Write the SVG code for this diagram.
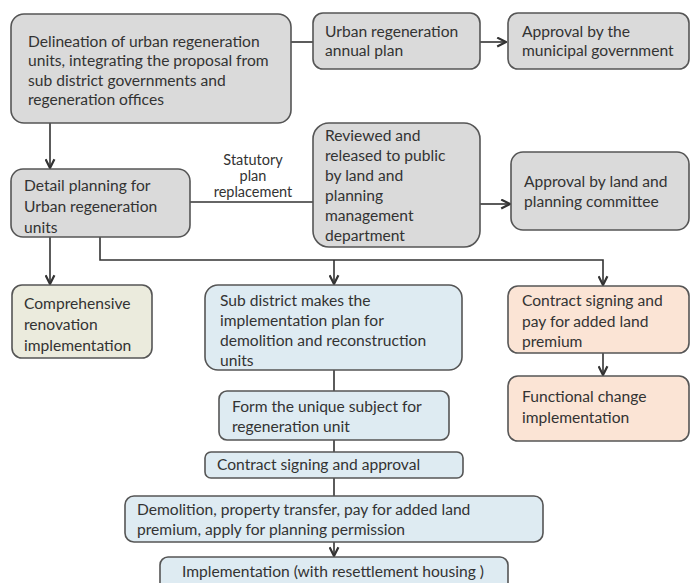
<svg xmlns="http://www.w3.org/2000/svg" width="691" height="583" viewBox="0 0 691 583">
<defs>
<marker id="arr" viewBox="0 0 10 10" refX="9" refY="5" markerWidth="11" markerHeight="11" markerUnits="userSpaceOnUse" orient="auto">
<path d="M1,1 L9,5 L1,9" fill="none" stroke="#333" stroke-width="2"/>
</marker>
<style>
.b{stroke:#555;stroke-width:1.6}
.g{fill:#dadada}
.bl{fill:#deebf2}
.gr{fill:#ebebdd}
.or{fill:#fbe4d5}
text{font-family:Lato,"Open Sans",sans-serif;font-size:15.6px;fill:#333}
.c{stroke:#333;stroke-width:1.6;fill:none}
.lbl{font-size:14.5px;text-anchor:middle}
</style>
</defs>
<rect width="691" height="583" fill="#fff"/>
<g id="connectors">
<line class="c" x1="291" y1="42" x2="313" y2="42"/>
<line class="c" x1="480" y1="42" x2="506" y2="42" marker-end="url(#arr)"/>
<line class="c" x1="50" y1="123" x2="50" y2="168" marker-end="url(#arr)"/>
<line class="c" x1="190" y1="202" x2="313" y2="202"/>
<line class="c" x1="480" y1="204" x2="510" y2="204" marker-end="url(#arr)"/>
<line class="c" x1="50" y1="237" x2="50" y2="284" marker-end="url(#arr)"/>
<polyline class="c" points="100,237 100,260 603,260 603,285" marker-end="url(#arr)"/>
<line class="c" x1="334" y1="260" x2="334" y2="284" marker-end="url(#arr)"/>
<line class="c" x1="603" y1="353" x2="603" y2="375" marker-end="url(#arr)"/>
<line class="c" x1="334" y1="370" x2="334" y2="391"/>
<line class="c" x1="334" y1="440" x2="334" y2="452"/>
<line class="c" x1="334" y1="478" x2="334" y2="496"/>
<line class="c" x1="334" y1="542" x2="334" y2="556" marker-end="url(#arr)"/>
<text class="lbl" x="253" y="165">Statutory</text>
<text class="lbl" x="253" y="181">plan</text>
<text class="lbl" x="253" y="197">replacement</text>
</g>
<g id="delineation">
<rect class="b g" x="11" y="14" width="280" height="109" rx="13"/>
<text x="28" y="47">Delineation of urban regeneration</text>
<text x="28" y="66">units, integrating the proposal from</text>
<text x="28" y="86">sub district governments and</text>
<text x="28" y="105">regeneration offices</text>
</g>
<g id="annual-plan">
<rect class="b g" x="313" y="13" width="167" height="56" rx="10"/>
<text x="325" y="37">Urban regeneration</text>
<text x="325" y="56">annual plan</text>
</g>
<g id="approval-municipal">
<rect class="b g" x="508" y="13" width="181" height="56" rx="10"/>
<text x="522" y="37">Approval by the</text>
<text x="522" y="56">municipal government</text>
</g>
<g id="detail-planning">
<rect class="b g" x="11" y="169" width="179" height="68" rx="12"/>
<text x="24" y="191">Detail planning for</text>
<text x="24" y="212">Urban regeneration</text>
<text x="24" y="233">units</text>
</g>
<g id="reviewed">
<rect class="b g" x="313" y="123" width="167" height="124" rx="16"/>
<text x="325" y="141">Reviewed and</text>
<text x="325" y="161">released to public</text>
<text x="325" y="181">by land and</text>
<text x="325" y="201">planning</text>
<text x="325" y="221">management</text>
<text x="325" y="241">department</text>
</g>
<g id="approval-committee">
<rect class="b g" x="511" y="152" width="178" height="78" rx="12"/>
<text x="524" y="187">Approval by land and</text>
<text x="524" y="207">planning committee</text>
</g>
<g id="comprehensive">
<rect class="b gr" x="12" y="285" width="140" height="73" rx="10"/>
<text x="24" y="309">Comprehensive</text>
<text x="24" y="330">renovation</text>
<text x="24" y="351">implementation</text>
</g>
<g id="sub-district">
<rect class="b bl" x="205" y="285" width="257" height="85" rx="13"/>
<text x="220" y="306">Sub district makes the</text>
<text x="220" y="326">implementation plan for</text>
<text x="220" y="346">demolition and reconstruction</text>
<text x="220" y="366">units</text>
</g>
<g id="contract-premium">
<rect class="b or" x="508" y="286" width="181" height="67" rx="10"/>
<text x="522" y="306">Contract signing and</text>
<text x="522" y="327">pay for added land</text>
<text x="522" y="347">premium</text>
</g>
<g id="functional-change">
<rect class="b or" x="508" y="376" width="181" height="65" rx="10"/>
<text x="522" y="402">Functional change</text>
<text x="522" y="423">implementation</text>
</g>
<g id="unique-subject">
<rect class="b bl" x="219" y="391" width="230" height="49" rx="8"/>
<text x="232" y="412">Form the unique subject for</text>
<text x="232" y="432">regeneration unit</text>
</g>
<g id="contract-approval">
<rect class="b bl" x="205" y="452" width="258" height="26" rx="6"/>
<text x="217" y="470">Contract signing and approval</text>
</g>
<g id="demolition">
<rect class="b bl" x="125" y="496" width="418" height="46" rx="9"/>
<text x="137" y="515">Demolition, property transfer, pay for added land</text>
<text x="137" y="535">premium, apply for planning permission</text>
</g>
<g id="implementation">
<rect class="b bl" x="160" y="557" width="348" height="40" rx="8"/>
<text x="182" y="577">Implementation (with resettlement housing )</text>
</g>
</svg>
